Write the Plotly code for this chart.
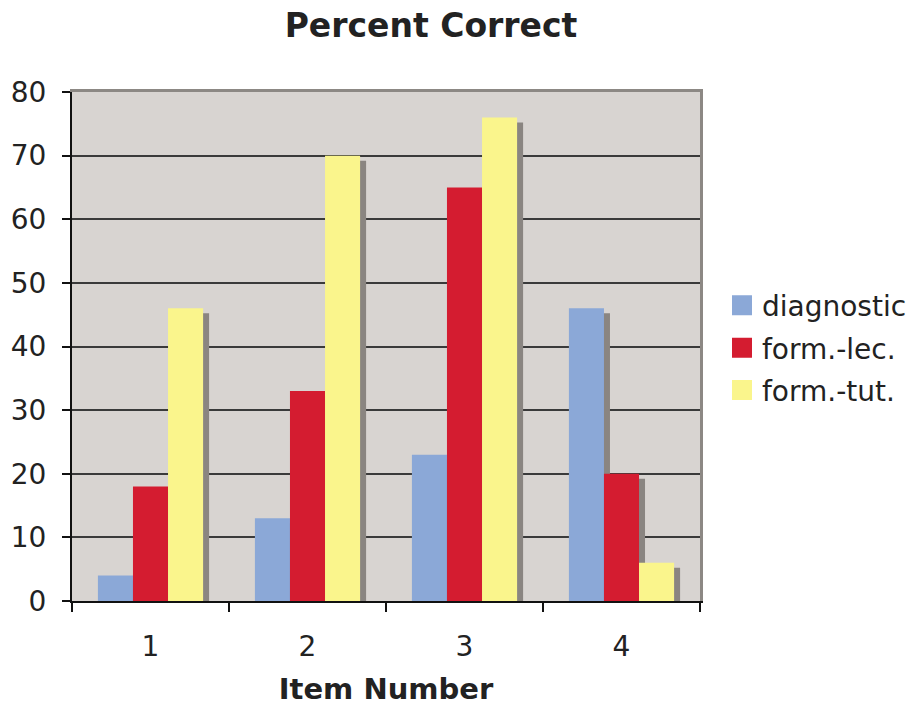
import plotly.graph_objects as go

# Survey results: percent of students answering each item correctly
items = ["1", "2", "3", "4"]
diagnostic = [4, 13, 23, 46]
form_lec = [18, 33, 65, 20]
form_tut = [46, 70, 76, 6]

series_names = ["diagnostic", "form.-lec.", "form.-tut."]
series_values = [diagnostic, form_lec, form_tut]
series_colors = ["#8BA8D7", "#D41C30", "#FAF58C"]
shadow_color = "#8A8581"
plot_bg = "#D8D4D1"

# plot area in pixels (for the drop-shadow offset)
plot_w_px = 628
plot_h_px = 509
shadow_dx = 6 * len(items) / plot_w_px      # category units
shadow_dy = 5 * 80 / plot_h_px               # value units

fig = go.Figure()

# drop shadows: drawn on the base subplot, whose ranges are shifted so
# the same values land a few pixels right and down
for name, vals in zip(series_names, series_values):
    fig.add_trace(go.Bar(
        x=items, y=vals, name=name + " shadow",
        marker=dict(color=shadow_color, line=dict(width=0)),
        showlegend=False, hoverinfo="skip",
        xaxis="x", yaxis="y",
    ))

# coloured bars on the overlaying subplot
for name, vals, col in zip(series_names, series_values, series_colors):
    fig.add_trace(go.Bar(
        x=items, y=vals, name=name,
        marker=dict(color=col, line=dict(width=0)),
        showlegend=False,
        xaxis="x2", yaxis="y2",
    ))

# legend entries with larger square swatches
for i, (name, col) in enumerate(zip(series_names, series_colors)):
    fig.add_trace(go.Scatter(
        x=[None], y=[None], mode="markers", name=name,
        marker=dict(symbol="square", size=16, color=col,
                    line=dict(color=col, width=4)),
        legendgroup="g%d" % i, showlegend=True,
        xaxis="x2", yaxis="y2",
    ))

font_family = "DejaVu Sans, Verdana, sans-serif"
text_color = "#222222"

fig.update_layout(
    width=910, height=706,
    margin=dict(l=72, r=210, t=92, b=105, autoexpand=False),
    paper_bgcolor="white",
    plot_bgcolor=plot_bg,
    barmode="group",
    bargap=0.33,
    bargroupgap=0,
    font=dict(family=font_family, size=28, color=text_color),
    title=dict(
        text="<b>Percent Correct</b>",
        font=dict(family=font_family, size=33, color=text_color),
        x=(431 - 72) / 628, xref="paper", xanchor="center",
        y=1 - 25 / 706, yanchor="middle",
    ),
    showlegend=True,
    legend=dict(
        x=1.035, xanchor="left", y=0.497, yanchor="middle",
        font=dict(family=font_family, size=28, color=text_color),
        traceorder="grouped", tracegroupgap=3,
        itemwidth=30, bgcolor="rgba(0,0,0,0)",
    ),
    # base axes: carry the shadows and the grey frame on top/right
    xaxis=dict(
        type="category", range=[-0.5 - shadow_dx, len(items) - 0.5 - shadow_dx],
        side="top", showline=True, linecolor="#8C8884", linewidth=3,
        showticklabels=False, ticks="", showgrid=False, zeroline=False,
        automargin=False,
    ),
    yaxis=dict(
        range=[shadow_dy, 80 + shadow_dy],
        side="right", showline=True, linecolor="#8C8884", linewidth=3,
        showticklabels=False, ticks="", showgrid=False, zeroline=False,
        automargin=False,
    ),
    # overlay axes: ticks, labels, gridlines
    xaxis2=dict(
        type="category", overlaying="x", anchor="y2", side="bottom",
        range=[-0.5, len(items) - 0.5],
        tickson="boundaries", ticks="outside", ticklen=9, tickwidth=1.5,
        tickcolor="#111111",
        showline=True, linecolor="#111111", linewidth=2,
        showgrid=False, zeroline=False,
        ticklabelstandoff=19,
        tickfont=dict(family=font_family, size=28, color=text_color),
        title=dict(text="<b>Item Number</b>",
                   font=dict(family=font_family, size=29, color=text_color),
                   standoff=19),
        automargin=False,
    ),
    yaxis2=dict(
        overlaying="y", anchor="x2", side="left",
        range=[0, 80], dtick=10,
        ticks="outside", ticklen=8, tickwidth=1.5, tickcolor="#111111",
        showline=True, linecolor="#111111", linewidth=2,
        showgrid=True, gridcolor="#3A3A3A", gridwidth=1.5,
        zeroline=False,
        ticklabelstandoff=10,
        tickfont=dict(family=font_family, size=28, color=text_color),
        automargin=False,
    ),
)

fig.write_html("out.html")
